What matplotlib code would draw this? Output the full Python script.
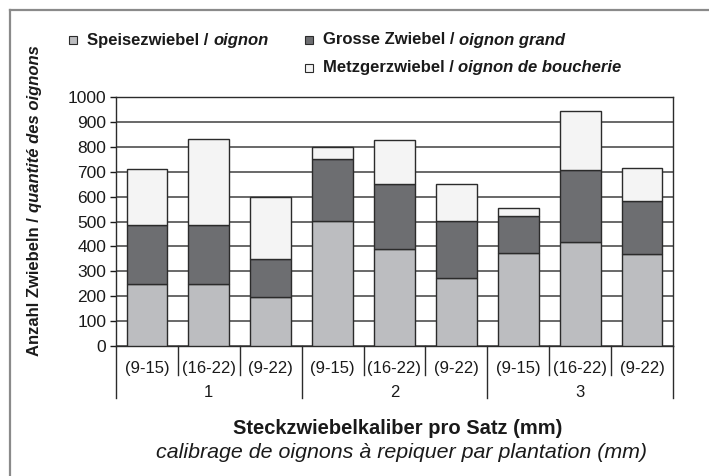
import matplotlib
matplotlib.use("Agg")
import matplotlib.pyplot as plt
from matplotlib.patches import Rectangle
from matplotlib.lines import Line2D
import matplotlib.transforms as mtransforms
import numpy as np

plt.rcParams['font.family'] = ['Liberation Sans', 'DejaVu Sans']

sub_labels = ["(9-15)", "(16-22)", "(9-22)"] * 3
group_labels = ["1", "2", "3"]
speise = [248, 248, 196, 502, 390, 273, 375, 418, 368]
grosse = [236, 239, 153, 248, 259, 229, 147, 289, 213]
metzger = [228, 344, 251, 49, 180, 150, 33, 238, 132]

series_de = ["Speisezwiebel / ", "Grosse Zwiebel / ", "Metzgerzwiebel / "]
series_fr = ["oignon", "oignon grand", "oignon de boucherie"]
colors = ["#bcbdc0", "#6d6e71", "#f4f4f4"]
edge = "#2b2b2b"
txt = "#1a1a1a"

W, H = 709, 476
fig = plt.figure(figsize=(W / 100, H / 100), dpi=100)

# outer frame (top + left only)
fig.add_artist(Line2D([10 / W, 1], [1 - 10 / H, 1 - 10 / H], color="#8a8a8a", lw=1.6))
fig.add_artist(Line2D([10 / W, 10 / W], [0, 1 - 10 / H], color="#8a8a8a", lw=1.6))

ax = fig.add_axes([116 / W, 1 - 346 / H, (673 - 116) / W, (346 - 97) / H])
x = np.arange(len(speise))
bw = 0.66
bottom = np.zeros(len(x))
for vals, c in zip([speise, grosse, metzger], colors):
    ax.bar(x, vals, bw, bottom=bottom, color=c, edgecolor=edge, linewidth=1, zorder=3)
    bottom += np.array(vals)

ax.set_xlim(-0.5, len(x) - 0.5)
ax.set_ylim(0, 1000)
ax.set_yticks(range(0, 1001, 100))
ax.tick_params(axis='y', labelsize=12.5, length=4, width=1, pad=3, colors=txt)
ax.tick_params(axis='x', length=0, labelbottom=False)
ax.yaxis.grid(True, color="#404040", lw=1.1)
ax.set_axisbelow(True)
for s in ax.spines.values():
    s.set_color(edge)
    s.set_linewidth(1)

# multi-level category axis
trans = mtransforms.blended_transform_factory(ax.transData, ax.transAxes)
for i, lab in enumerate(sub_labels):
    ax.text(i, -0.092, lab, transform=trans, ha='center', va='center', fontsize=12, color=txt)
for k in range(len(x) + 1):
    xs = k - 0.5
    y_end = -0.21 if k % 3 == 0 else -0.115
    ax.plot([xs, xs], [0, y_end], transform=trans, color=edge, lw=1, clip_on=False)
for g, lab in enumerate(group_labels):
    ax.text(3 * g + 1, -0.185, lab, transform=trans, ha='center', va='center', fontsize=12, color=txt)

# axis titles
fig.text(398 / W, 1 - 428 / H, "Steckzwiebelkaliber pro Satz (mm)", ha='center', va='center',
         fontsize=14.5, fontweight='bold', color=txt)
fig.text(402 / W, 1 - 453 / H, "calibrage de oignons à repiquer par plantation (mm)", ha='center',
         va='center', fontsize=15.4, fontstyle='italic', color=txt)

y1 = fig.text(35 / W, 1 - 356 / H, "Anzahl Zwiebeln / ", rotation=90, ha='center', va='bottom',
              fontsize=12, fontweight='bold', color=txt)
fig.add_artist(plt.Annotation("quantité des oignons", xy=(0.5, 1), xycoords=y1, rotation=90,
                              ha='center', va='bottom', fontsize=12, fontweight='bold',
                              fontstyle='italic', color=txt))

# legend
leg_pos = [(69, 40), (305, 40), (305, 68)]
for (px, py), de, fr, c in zip(leg_pos, series_de, series_fr, colors):
    fig.add_artist(Rectangle((px / W, (H - py - 4) / H), 8 / W, 8 / H, transform=fig.transFigure,
                             facecolor=c, edgecolor=edge, lw=0.8))
    t = fig.text((px + 18) / W, 1 - py / H, de, ha='left', va='center', fontsize=12,
                 fontweight='bold', color=txt)
    fig.add_artist(plt.Annotation(fr, xy=(1, 0), xycoords=t, ha='left', va='bottom', fontsize=12,
                                  fontweight='bold', fontstyle='italic', color=txt))

fig.savefig("out.png", dpi=100)
